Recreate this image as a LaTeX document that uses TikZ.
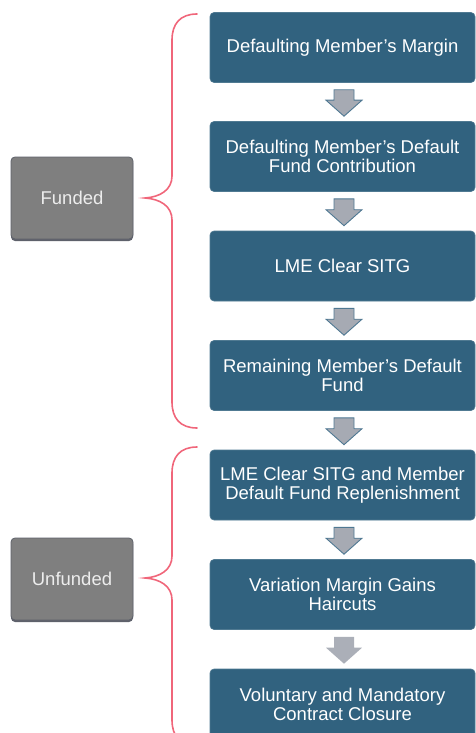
\documentclass[tikz,border=0pt]{standalone}
\usepackage{fontspec}
\setmainfont{Liberation Sans}
\usetikzlibrary{calc,shadows}
\definecolor{boxteal}{HTML}{31627F}
\definecolor{arrowfill}{HTML}{A6AAB3}
\definecolor{arrowedge}{HTML}{4F7892}
\definecolor{lightarrow}{HTML}{ABAFB8}
\definecolor{labelgrey}{HTML}{7F7F7F}
\definecolor{labeledge}{HTML}{5E616B}
\definecolor{bracepink}{HTML}{F0667A}
\tikzset{
  stepbox/.style={fill=boxteal, draw=boxteal!85!white, line width=0.6pt, rounded corners=4pt,
    minimum width=265pt, minimum height=70pt, inner sep=0pt, text=white, align=center,
    font=\fontsize{18.5}{19}\selectfont},
  labelbox/.style={fill=labelgrey, draw=labeledge, line width=0.8pt, rounded corners=4pt,
    minimum width=122pt, minimum height=82pt, inner sep=0pt, text=white!93!black,
    font=\fontsize{18.5}{19}\selectfont,
    general shadow={fill=labeledge, shadow yshift=-2pt}},
  blockarrow/.style={fill=arrowfill, draw=arrowedge, line width=0.9pt, line join=miter},
  lightblockarrow/.style={fill=lightarrow, draw=none},
  bracket/.style={draw=bracepink, line width=1.6pt, line cap=round}
}
\newcommand{\flowarrow}[3]{%
  \path[#3] let \p1=(#1.south), \p2=(#2.north) in
    (\x1+1.5pt-10pt, \y1-7pt) -- (\x1+1.5pt+10pt, \y1-7pt) -- (\x1+1.5pt+10pt, \y2+21pt)
    -- (\x1+1.5pt+18pt, \y2+21pt) -- (\x1+1.5pt, \y2+5pt) -- (\x1+1.5pt-18pt, \y2+21pt)
    -- (\x1+1.5pt-10pt, \y2+21pt) -- cycle;}
\begin{document}
\begin{tikzpicture}[x=1pt,y=-1pt]
\useasboundingbox (0,0) rectangle (476,733);
\node[stepbox] (b1) at (342.5,47.5) {Defaulting Member’s Margin};
\node[stepbox] (b2) at (342.5,156.5) {Defaulting Member’s Default\\Fund Contribution};
\node[stepbox] (b3) at (342.5,266) {LME Clear SITG};
\node[stepbox] (b4) at (342.5,375.5) {Remaining Member’s Default\\Fund};
\node[stepbox] (b5) at (342.5,485) {LME Clear SITG and Member\\Default Fund Replenishment};
\node[stepbox] (b6) at (342.5,594.5) {Variation Margin Gains\\Haircuts};
\node[stepbox] (b7) at (342.5,704) {Voluntary and Mandatory\\Contract Closure};
\node[labelbox] (funded) at (72,198) {Funded};
\node[labelbox] (unfunded) at (72,579) {Unfunded};
\flowarrow{b1}{b2}{blockarrow}
\flowarrow{b2}{b3}{blockarrow}
\flowarrow{b3}{b4}{blockarrow}
\flowarrow{b4}{b5}{blockarrow}
\flowarrow{b5}{b6}{blockarrow}
\flowarrow{b6}{b7}{lightblockarrow}
% brackets
\coordinate (ftop) at (197,14);
\coordinate (ftip) at (145,198);
\coordinate (fbot) at (197,428);
\coordinate (utop) at (197,447);
\coordinate (utip) at (145,578);
\coordinate (ubot) at (197,746);
\draw[bracket] (ftop) .. controls (180,14) and (172,24) .. (172,40) -- (172,176)
  .. controls (172,190) and (160,197) .. (ftip)
  .. controls (160,199) and (172,206) .. (172,220) -- (172,402)
  .. controls (172,418) and (180,428) .. (fbot);
\draw[bracket] (utop) .. controls (180,447) and (172,457) .. (172,473) -- (172,556)
  .. controls (172,570) and (160,577) .. (utip)
  .. controls (160,579) and (172,586) .. (172,600) -- (172,720)
  .. controls (172,736) and (180,746) .. (ubot);
\end{tikzpicture}
\end{document}
